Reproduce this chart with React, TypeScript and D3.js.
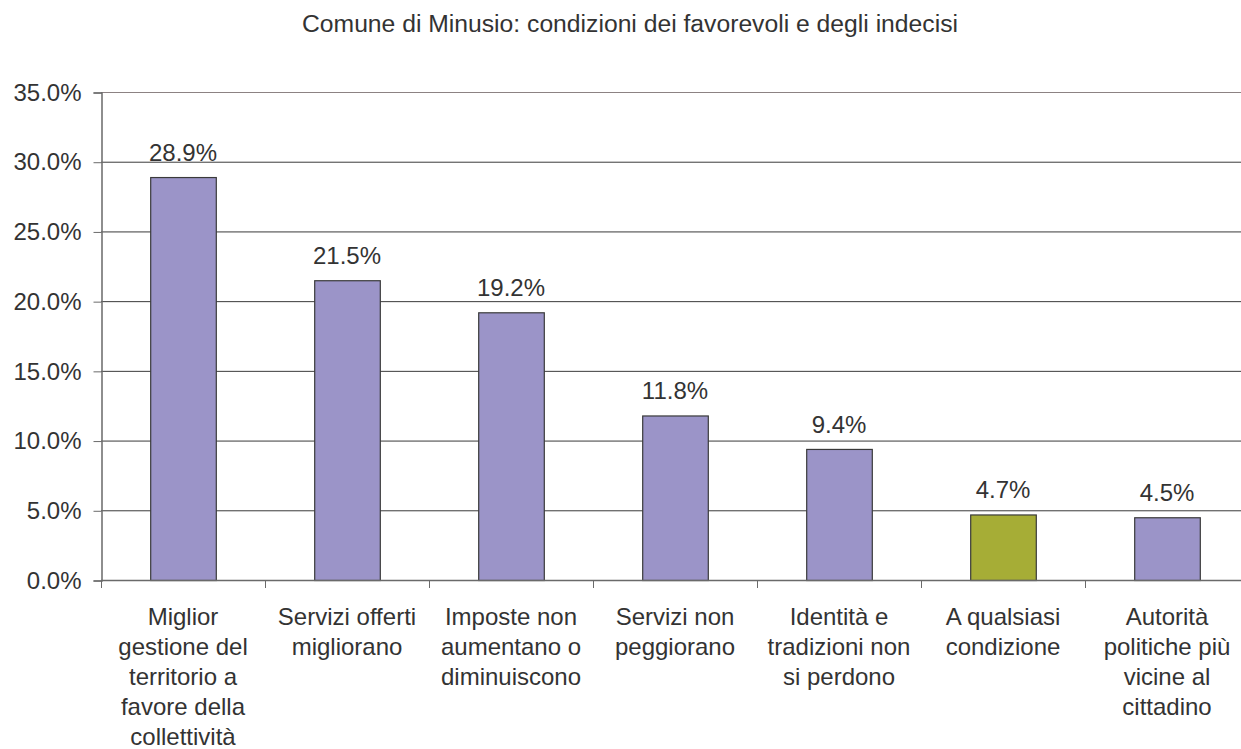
import React, { useEffect, useRef } from 'react'
import * as d3 from 'd3'

// dati
const categories = [
  'Miglior gestione',
  'Servizi offerti',
  'Imposte non',
  'Servizi non',
  'Identità',
  'A qualsiasi',
  'Autorità politiche'
]
const labelLines = [
  ['Miglior', 'gestione del', 'territorio a', 'favore della', 'collettività'],
  ['Servizi offerti', 'migliorano'],
  ['Imposte non', 'aumentano o', 'diminuiscono'],
  ['Servizi non', 'peggiorano'],
  ['Identità e', 'tradizioni non', 'si perdono'],
  ['A qualsiasi', 'condizione'],
  ['Autorità', 'politiche più', 'vicine al', 'cittadino']
]
const values = [28.9, 21.5, 19.2, 11.8, 9.4, 4.7, 4.5]
const barColors = ['#9b94c8', '#9b94c8', '#9b94c8', '#9b94c8', '#9b94c8', '#a6ad36', '#9b94c8']
const yTicks = [0, 5, 10, 15, 20, 25, 30, 35]
const title = 'Comune di Minusio: condizioni dei favorevoli e degli indecisi'

const App = () => {
  const ref = useRef<SVGSVGElement>(null)

  useEffect(() => {
    const width = 1241
    const height = 749
    const left = 101
    const right = 1249
    const top = 92
    const bottom = 580
    const font = '"Liberation Sans", Arial, Helvetica, sans-serif'
    const textColor = '#333333'
    const fs = '24px'

    const svg = d3.select(ref.current)
    svg.selectAll('*').remove()
    svg.attr('width', width).attr('height', height)

    const x = d3
      .scaleBand()
      .domain(categories)
      .range([left, right])
      .paddingInner(0.6)
      .paddingOuter(0.3)
    const y = d3.scaleLinear().domain([0, 35]).range([bottom, top])

    // titolo
    svg
      .append('text')
      .attr('x', 630)
      .attr('y', 32)
      .attr('text-anchor', 'middle')
      .style('font-family', font)
      .style('font-size', '24.7px')
      .attr('fill', textColor)
      .text(title)

    // griglia
    svg
      .append('g')
      .selectAll('line')
      .data(yTicks.filter((d) => d > 0))
      .enter()
      .append('line')
      .attr('x1', left)
      .attr('x2', right)
      .attr('y1', (d) => y(d) + 0.5)
      .attr('y2', (d) => y(d) + 0.5)
      .attr('stroke', (d) => (d === 35 ? '#8c8283' : '#3a3a3a'))
      .attr('stroke-width', 1)

    // asse y
    const yAxis = d3
      .axisLeft(y)
      .tickValues(yTicks)
      .tickSize(8)
      .tickPadding(12)
      .tickFormat((d) => (d as number).toFixed(1) + '%')
    const gy = svg
      .append('g')
      .attr('transform', `translate(${left + 0.5},0.5)`)
      .call(yAxis)
    gy.select('.domain').attr('stroke', '#6a6a6a').attr('stroke-width', 1.5)
    gy.selectAll('.tick line').attr('stroke', '#6a6a6a')
    gy.selectAll('text')
      .style('font-family', font)
      .style('font-size', fs)
      .attr('fill', textColor)

    // barre
    svg
      .append('g')
      .selectAll('rect')
      .data(values)
      .enter()
      .append('rect')
      .attr('x', (d, i) => (x(categories[i]) as number) + 0.5)
      .attr('y', (d) => y(d) + 0.5)
      .attr('width', x.bandwidth())
      .attr('height', (d) => bottom - y(d))
      .attr('fill', (d, i) => barColors[i])
      .attr('stroke', '#3a3a3a')
      .attr('stroke-width', 1.2)

    // etichette valori
    svg
      .append('g')
      .selectAll('text')
      .data(values)
      .enter()
      .append('text')
      .attr('x', (d, i) => (x(categories[i]) as number) + x.bandwidth() / 2)
      .attr('y', (d) => y(d) - 16)
      .attr('text-anchor', 'middle')
      .style('font-family', font)
      .style('font-size', fs)
      .attr('fill', textColor)
      .text((d) => d.toFixed(1) + '%')

    // asse x
    const step = x.step()
    svg
      .append('line')
      .attr('x1', left)
      .attr('x2', right)
      .attr('y1', bottom + 0.5)
      .attr('y2', bottom + 0.5)
      .attr('stroke', '#6a6a6a')
      .attr('stroke-width', 1.5)
    svg
      .append('g')
      .selectAll('line')
      .data(d3.range(categories.length + 1))
      .enter()
      .append('line')
      .attr('x1', (i) => left + i * step + 0.5)
      .attr('x2', (i) => left + i * step + 0.5)
      .attr('y1', bottom)
      .attr('y2', bottom + 8)
      .attr('stroke', '#6a6a6a')

    // etichette categorie
    const labels = svg
      .append('g')
      .selectAll('text')
      .data(labelLines)
      .enter()
      .append('text')
      .attr('text-anchor', 'middle')
      .style('font-family', font)
      .style('font-size', fs)
      .attr('fill', textColor)
    labels.each(function (lines, i) {
      const cx = (x(categories[i]) as number) + x.bandwidth() / 2
      d3.select(this)
        .selectAll('tspan')
        .data(lines)
        .enter()
        .append('tspan')
        .attr('x', cx)
        .attr('y', (d, j) => 625 + j * 30)
        .text((d) => d)
    })
  }, [])

  return <svg ref={ref} style={{ position: 'absolute', left: 0, top: 0, display: 'block' }} />
}

export default App
